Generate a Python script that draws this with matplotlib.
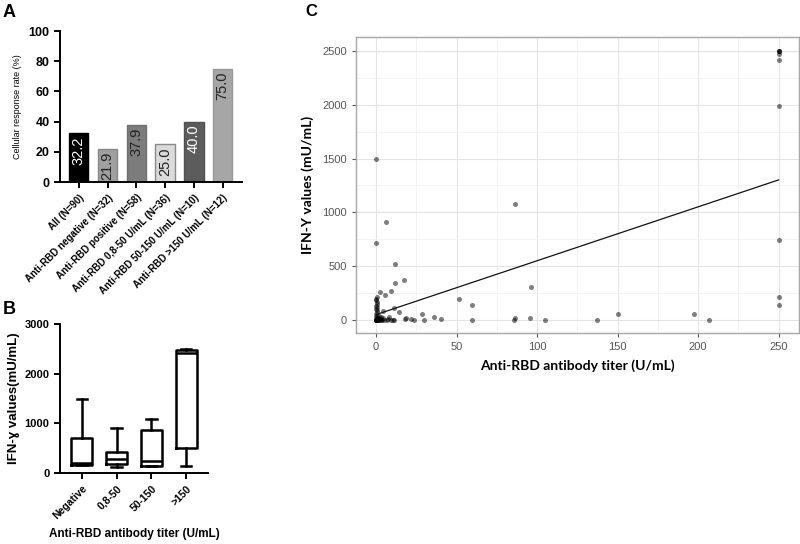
import numpy as np
import matplotlib.pyplot as plt

# ---- panel A: cellular response rate
groups_a = ["All (N=90)", "Anti-RBD negative (N=32)", "Anti-RBD positive (N=58)",
            "Anti-RBD 0,8-50 U/mL (N=36)", "Anti-RBD 50-150 U/mL (N=10)",
            "Anti-RBD >150 U/mL (N=12)"]
rate = [32.2, 21.9, 37.9, 25.0, 40.0, 75.0]

# ---- panel B: IFN-g by titer group (box stats)
groups_b = ["Negative", "0,8-50", "50-150", ">150"]
b_low = [170, 115, 135, 145]
b_q1 = [170, 185, 150, 500]
b_med = [200, 280, 240, 2420]
b_q3 = [700, 430, 865, 2480]
b_high = [1500, 910, 1080, 2500]

# ---- panel C: titer vs IFN-g
titer = [0.1, 0.2, 0.3, 0.1, 0.2, 0.3, 0.4, 0.1, 0.5, 0.2, 0.3, 0.6, 0.1, 0.4, 0.2, 0.5,
         0.3, 0.6, 0.1, 0.7, 0.2, 0.4, 0.5, 0.3, 0.6, 0.1, 0.7, 0.2, 0.4, 0.5, 0.3, 0.6,
         2.4, 5.6, 9.4, 11.5, 12.0, 17.1, 6.0, 10.9, 4.1, 14.5, 28.4, 36.1, 40.2, 29.7,
         23.7, 21.6, 17.8, 18.4, 10.5, 1.0, 1.2, 1.5, 1.8, 2.0, 2.2, 2.8, 3.0, 3.3, 3.8,
         4.5, 5.0, 6.5, 7.5, 8.0, 9.0, 11.0,
         51.8, 59.9, 59.5, 86.0, 96.0, 95.8, 85.8, 86.4, 105.2, 137.0,
         150.1, 197.2, 207.0, 250, 250, 250, 250, 250, 250, 250, 250, 250]
ifn = [1500, 710, 211, 195, 180, 165, 150, 130, 119, 100, 88, 70, 55, 39, 25, 15,
       8, 5, 3, 2, 1, 0, 0, 0, 0, 0, 0, 0, 0, 0, 0, 0,
       258, 230, 264, 522, 342, 373, 907, 112, 81, 75, 53, 28, 12, 3,
       3, 8, 8, 18, 2, 5, 20, 0, 40, 2, 12, 0, 30, 5, 0,
       15, 2, 0, 5, 25, 0, 3,
       193, 137, 3, 1078, 301, 16, 3, 16, 3, 3,
       56, 53, 3, 2500, 2500, 2500, 2469, 2419, 1988, 742, 211, 137]
fit_intercept = 48.5
fit_slope = 5.01

fig = plt.figure(figsize=(8, 5.44), dpi=100)
arial = "Liberation Sans"

def prism_axes(ax):
    for s in ["top", "right"]:
        ax.spines[s].set_visible(False)
    for s in ["left", "bottom"]:
        ax.spines[s].set_linewidth(1.4)
    ax.tick_params(width=1.4, length=4, direction="out")

# ---------------- A
axA = fig.add_axes([0.075, 0.6654, 0.2275, 0.2776])
prism_axes(axA)
xa = np.arange(len(rate))
fills = ["#000000", "#a0a0a0", "#7c7c7c", "#dadada", "#5c5c5c", "#a6a6a6"]
edges = ["#000000", "#888888", "#707070", "#8a8a8a", "#505050", "#999999"]
txtc = ["white", "#222222", "#222222", "#222222", "white", "#222222"]
axA.bar(xa, rate, width=0.67, color=fills, edgecolor=edges, linewidth=1)
for i, v in enumerate(rate):
    axA.text(xa[i], v - 2, f"{v:.1f}", rotation=90, ha="center", va="top",
             color=txtc[i], fontsize=10.5, family=arial)
axA.set_xlim(-0.65, 5.67)
axA.set_ylim(0, 100)
axA.set_yticks([0, 20, 40, 60, 80, 100])
axA.set_xticks(xa)
axA.set_xticklabels(groups_a, rotation=45, ha="right", rotation_mode="anchor",
                    fontsize=7, fontweight="bold", family=arial)
for lab in axA.get_yticklabels():
    lab.set_fontsize(9); lab.set_fontweight("bold"); lab.set_family(arial)
axA.set_ylabel("Cellular response rate (%)", fontsize=6.5, family=arial, labelpad=5)
fig.text(0.003, 0.992, "A", fontsize=13, fontweight="bold", family=arial, va="top")

# ---------------- B
axB = fig.add_axes([0.075, 0.1305, 0.185, 0.2739])
prism_axes(axB)
stats = []
for i in range(len(groups_b)):
    stats.append(dict(whislo=b_low[i], q1=b_q1[i], med=b_med[i], q3=b_q3[i],
                      whishi=b_high[i], fliers=[]))
lw = 1.8
axB.bxp(stats, positions=np.arange(len(groups_b)), widths=0.6, showfliers=False,
        boxprops=dict(linewidth=lw, color="black"),
        whiskerprops=dict(linewidth=lw, color="black"),
        capprops=dict(linewidth=lw, color="black"),
        medianprops=dict(linewidth=lw, color="black"), capwidths=0.3)
axB.set_xlim(-0.63, 3.63)
axB.set_ylim(0, 3000)
axB.set_yticks([0, 1000, 2000, 3000])
axB.set_xticks(np.arange(len(groups_b)))
axB.set_xticklabels(groups_b, rotation=45, ha="right", rotation_mode="anchor",
                    fontsize=7.5, fontweight="bold", family=arial)
for lab in axB.get_yticklabels():
    lab.set_fontsize(8); lab.set_fontweight("bold"); lab.set_family(arial)
axB.set_ylabel("IFN-ɣ values(mU/mL)", fontsize=9.5, fontweight="bold",
               family=[arial, "DejaVu Sans"], labelpad=3)
axB.set_xlabel("Anti-RBD antibody titer (U/mL)", fontsize=8.5, fontweight="bold",
               family=arial, labelpad=5)
fig.text(0.004, 0.447, "B", fontsize=13, fontweight="bold", family=arial, va="top")

# ---------------- C
axC = fig.add_axes([0.4449, 0.3873, 0.5535, 0.5438])
axC.scatter(titer, ifn, s=13, color="black", alpha=0.5, linewidths=0, zorder=3)
xf = np.array([min(titer), max(titer)])
axC.plot(xf, fit_intercept + fit_slope * xf, color="#111111", linewidth=0.9, zorder=4)
axC.set_xlim(-12.5, 262.5)
axC.set_ylim(-125, 2625)
axC.set_xticks(np.arange(0, 251, 50))
axC.set_yticks(np.arange(0, 2501, 500))
axC.set_xticks(np.arange(25, 251, 50), minor=True)
axC.set_yticks(np.arange(250, 2501, 500), minor=True)
axC.grid(True, which="major", color="#e4e4e4", linewidth=0.8, zorder=0)
axC.grid(True, which="minor", color="#f1f1f1", linewidth=0.6, zorder=0)
axC.set_axisbelow(True)
for s in axC.spines.values():
    s.set_color("#a8a8a8"); s.set_linewidth(1.0)
axC.tick_params(which="major", length=3, width=0.8, color="#555555",
                labelcolor="#555555", labelsize=8)
axC.tick_params(which="minor", length=0)
for lab in axC.get_xticklabels() + axC.get_yticklabels():
    lab.set_family(arial)
axC.set_xlabel("Anti-RBD antibody titer (U/mL)", fontsize=10, fontweight="bold",
               family="Lato", labelpad=5)
axC.set_ylabel("IFN-Y values (mU/mL)", fontsize=10, fontweight="bold",
               family="Lato", labelpad=6)
fig.text(0.382, 0.992, "C", fontsize=12, fontweight="bold", family=arial, va="top")

fig.savefig("out.png", dpi=100)
